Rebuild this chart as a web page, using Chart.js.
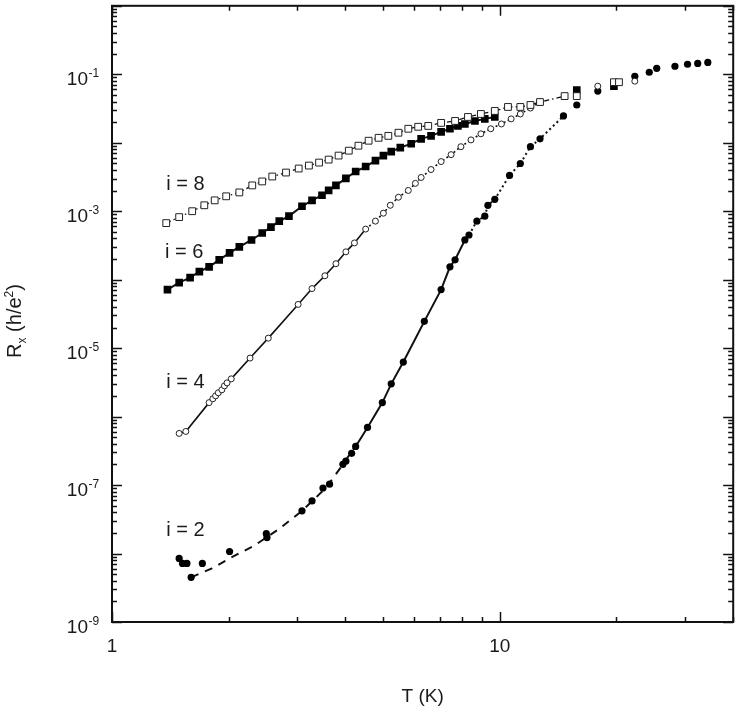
<!DOCTYPE html>
<html>
<head>
<meta charset="utf-8">
<script src="https://cdn.jsdelivr.net/npm/chart.js@4.4.1/dist/chart.umd.min.js"></script>
<style>
  html, body { margin: 0; padding: 0; background: #fff; }
  #wrap { width: 739px; height: 713px; }
</style>
</head>
<body>
<div id="wrap"><canvas id="rxChart" width="739" height="713"></canvas></div>
<script>
// i = 8, open squares
const t8 = [1.38, 1.49, 1.61, 1.73, 1.84, 1.97, 2.13, 2.30, 2.44, 2.59, 2.81, 3.03, 3.22, 3.42, 3.62, 3.84, 4.08, 4.32, 4.59, 4.87,
            5.16, 5.48, 5.81, 6.16, 6.54, 7.06, 7.67, 8.28, 8.94, 9.71, 10.5, 11.3, 12.0, 12.7, 14.7, 15.8, 19.7, 20.3];
const r8 = [6.7e-4, 8.2e-4, 1.0e-3, 1.22e-3, 1.44e-3, 1.65e-3, 1.88e-3, 2.38e-3, 2.72e-3, 3.21e-3, 3.67e-3, 4.2e-3, 4.64e-3, 5.13e-3,
            5.67e-3, 6.49e-3, 7.66e-3, 9.05e-3, 1.07e-2, 1.18e-2, 1.26e-2, 1.40e-2, 1.60e-2, 1.71e-2, 1.76e-2, 1.95e-2, 2.08e-2,
            2.38e-2, 2.63e-2, 2.91e-2, 3.33e-2, 3.33e-2, 3.56e-2, 3.93e-2, 4.8e-2, 4.8e-2, 7.66e-2, 7.66e-2];

// i = 6, filled squares
const t6 = [1.39, 1.49, 1.59, 1.68, 1.78, 1.89, 2.01, 2.13, 2.29, 2.44, 2.57, 2.70, 2.86, 3.09, 3.28, 3.48, 3.62, 3.78, 4.01, 4.25,
            4.51, 4.78, 5.01, 5.25, 5.54, 5.91, 6.27, 6.65, 7.06, 7.44, 7.80, 8.13, 8.63, 9.15, 9.71, 15.8, 19.7];
const r6 = [7.16e-5, 9.06e-5, 1.07e-4, 1.31e-4, 1.54e-4, 1.95e-4, 2.46e-4, 3.01e-4, 3.80e-4, 4.80e-4, 5.86e-4, 7.16e-4, 8.47e-4,
            1.18e-3, 1.44e-3, 1.71e-3, 2.01e-3, 2.38e-3, 3.01e-3, 3.80e-3, 4.49e-3, 5.48e-3, 6.49e-3, 7.41e-3, 8.47e-3, 9.68e-3,
            1.14e-2, 1.26e-2, 1.44e-2, 1.60e-2, 1.76e-2, 1.88e-2, 2.08e-2, 2.23e-2, 2.38e-2, 5.86e-2, 6.70e-2];

// i = 4, open circles
const t4 = [1.49, 1.55, 1.78, 1.82, 1.85, 1.88, 1.92, 1.95, 1.98, 2.03, 2.27, 2.53, 3.02, 3.28, 3.54, 3.78, 4.01, 4.22, 4.51, 4.78,
            5.01, 5.22, 5.48, 5.81, 6.06, 6.27, 6.65, 7.06, 7.49, 7.94, 8.43, 8.94, 9.48, 10.1, 10.7, 11.3, 12.0, 12.7, 17.9, 22.3];
const r4 = [5.68e-7, 6.07e-7, 1.60e-6, 1.82e-6, 2.01e-6, 2.23e-6, 2.46e-6, 2.81e-6, 3.11e-6, 3.56e-6, 7.16e-6, 1.40e-5, 4.35e-5,
            7.41e-5, 1.14e-4, 1.71e-4, 2.55e-4, 3.44e-4, 5.48e-4, 7.16e-4, 9.35e-4, 1.22e-3, 1.60e-3, 2.01e-3, 2.55e-3, 3.11e-3,
            4.06e-3, 5.31e-3, 6.70e-3, 8.75e-3, 1.10e-2, 1.35e-2, 1.60e-2, 1.88e-2, 2.23e-2, 2.63e-2, 3.21e-2, 3.93e-2, 6.70e-2, 7.93e-2];

// i = 2, filled circles
const t2 = [1.49, 1.52, 1.56, 1.60, 1.71, 2.01, 2.50, 2.51, 3.09, 3.28, 3.50, 3.64, 3.94, 4.01, 4.15, 4.25, 4.56, 4.98, 5.25, 5.64,
            6.39, 7.06, 7.44, 7.67, 8.13, 8.33, 8.73, 9.15, 9.32, 9.71, 10.6, 11.3, 12.0, 12.7, 14.6, 15.8, 17.9, 22.3, 24.3, 25.4,
            28.3, 30.5, 32.4, 34.4];
const r2 = [8.47e-9, 7.16e-9, 7.16e-9, 4.49e-9, 7.16e-9, 1.07e-8, 1.95e-8, 1.71e-8, 4.20e-8, 5.86e-8, 9.06e-8, 1.03e-7, 2.01e-7,
            2.23e-7, 2.91e-7, 3.67e-7, 6.94e-7, 1.60e-6, 3.01e-6, 6.26e-6, 2.46e-5, 7.16e-5, 1.54e-4, 1.95e-4, 3.80e-4, 4.49e-4,
            7.16e-4, 8.47e-4, 1.22e-3, 1.49e-3, 3.33e-3, 4.97e-3, 8.75e-3, 1.14e-2, 2.46e-2, 3.56e-2, 5.68e-2, 9.35e-2, 0.107,
            0.122, 0.131, 0.140, 0.144, 0.149];

// dashed low-T curve through the i = 2 data
const t2fit = [1.60, 1.81, 2.03, 2.33, 2.70, 3.09, 3.56, 3.96, 4.32];
const r2fit = [4.49e-9, 6.07e-9, 8.75e-9, 1.31e-8, 2.30e-8, 4.20e-8, 9.06e-8, 2.08e-7, 4.35e-7];

// axis ticks and labels
const xLabelTicks = [1, 10];
const xMinorTicks = [2, 3, 4, 5, 6, 7, 8, 9, 20, 30, 40];
const yLabelExps = [-1, -3, -5, -7, -9];
const curveLabels = ['i = 8', 'i = 6', 'i = 4', 'i = 2'];
const curveLabelT = [1.38, 1.37, 1.38, 1.38];
const curveLabelR = [2.46e-3, 2.46e-4, 3.2e-6, 2.15e-8];

const FONT = "'Liberation Sans', Arial, sans-serif";
const INK = '#1a1a1a';

function pts(t, r) {
    return t.map((v, i) => ({ x: v, y: r[i] }));
}

function between(t, r, lo, hi) {
    return pts(t, r).filter(p => p.x >= lo && p.x <= hi);
}

// frame, inward ticks, y labels and curve labels
const framePlugin = {
    id: 'frameTicks',
    afterDraw(chart) {
        const { ctx, chartArea: a, scales: { x, y } } = chart;
        ctx.save();
        ctx.strokeStyle = '#111';

        // y ticks on both sides
        ctx.lineWidth = 1.5;
        ctx.beginPath();
        for (let d = -9; d <= 0; d++) {
            for (let m = 1; m <= 9; m++) {
                const v = m * Math.pow(10, d);
                if (v > 1.0001) continue;
                const py = Math.round(y.getPixelForValue(v)) + 0.5;
                const len = m === 1 ? 10 : 5;
                ctx.moveTo(a.left, py); ctx.lineTo(a.left + len, py);
                ctx.moveTo(a.right, py); ctx.lineTo(a.right - len, py);
            }
        }
        // x ticks on top and bottom
        xLabelTicks.concat(xMinorTicks).forEach(v => {
            const px = Math.round(x.getPixelForValue(v)) + 0.5;
            const len = xLabelTicks.includes(v) ? 10 : 5;
            ctx.moveTo(px, a.bottom); ctx.lineTo(px, a.bottom - len);
            ctx.moveTo(px, a.top); ctx.lineTo(px, a.top + len);
        });
        ctx.stroke();

        // frame
        ctx.lineWidth = 2;
        ctx.strokeRect(a.left, a.top, a.right - a.left, a.bottom - a.top);

        // y tick labels 10^n
        ctx.fillStyle = INK;
        yLabelExps.forEach(e => {
            const py = y.getPixelForValue(Math.pow(10, e));
            ctx.font = '19px ' + FONT;
            ctx.textAlign = 'right';
            ctx.textBaseline = 'alphabetic';
            ctx.fillText('10', 88, py + 11);
            ctx.font = '12px ' + FONT;
            ctx.textAlign = 'left';
            ctx.fillText('-' + Math.abs(e), 88.5, py + 3);
        });

        // y axis title R_x (h/e^2)
        const parts = [['R', 20, 0], ['x', 12, 5], [' (h/e', 20, 0], ['2', 12, -8], [')', 20, 0]];
        let total = 0;
        parts.forEach(p => { ctx.font = p[1] + 'px ' + FONT; total += ctx.measureText(p[0]).width; });
        ctx.translate(21, 321);
        ctx.rotate(-Math.PI / 2);
        ctx.textAlign = 'left';
        let cx = -total / 2;
        parts.forEach(p => {
            ctx.font = p[1] + 'px ' + FONT;
            ctx.fillText(p[0], cx, p[2]);
            cx += ctx.measureText(p[0]).width;
        });
        ctx.setTransform(1, 0, 0, 1, 0, 0);

        // curve labels
        ctx.font = '20px ' + FONT;
        ctx.textAlign = 'left';
        ctx.textBaseline = 'middle';
        curveLabels.forEach((s, i) => {
            ctx.fillText(s, x.getPixelForValue(curveLabelT[i]), y.getPixelForValue(curveLabelR[i]));
        });
        ctx.restore();
    }
};

const ctx = document.getElementById('rxChart').getContext('2d');
const rxChart = new Chart(ctx, {
    type: 'scatter',
    data: {
        datasets: [
            // lines
            {
                data: between(t8, r8, 0, 15), showLine: true, pointRadius: 0,
                borderColor: '#111', borderWidth: 1.3, borderDash: [5, 3, 1.5, 3], order: 10
            },
            {
                data: between(t6, r6, 0, 10), showLine: true, pointRadius: 0,
                borderColor: '#111', borderWidth: 2, order: 10
            },
            {
                data: between(t4, r4, 0, 13), showLine: true, pointRadius: 0,
                borderColor: '#111', borderWidth: 1.6, order: 10,
                segment: { borderDash: c => c.p0.parsed.x >= 4.3 ? [2, 2.5] : undefined }
            },
            {
                data: between(t2, r2, 4.2, 15), showLine: true, pointRadius: 0,
                borderColor: '#111', borderWidth: 2, order: 10,
                segment: { borderDash: c => c.p0.parsed.x >= 8.3 ? [2, 3] : undefined }
            },
            {
                data: pts(t2fit, r2fit), showLine: true, pointRadius: 0,
                borderColor: '#111', borderWidth: 2, borderDash: [8, 7], order: 10
            },
            // markers
            {
                label: 'i = 8', data: pts(t8, r8), pointStyle: 'rect', pointRadius: 4.8,
                backgroundColor: '#fff', borderColor: '#222', pointBorderWidth: 1, order: 1
            },
            {
                label: 'i = 6', data: pts(t6, r6), pointStyle: 'rect', pointRadius: 5.4,
                backgroundColor: '#000', borderColor: '#000', pointBorderWidth: 0, order: 1
            },
            {
                label: 'i = 4', data: pts(t4, r4), pointStyle: 'circle', pointRadius: 3,
                backgroundColor: '#fff', borderColor: '#222', pointBorderWidth: 1, order: 1
            },
            {
                label: 'i = 2', data: pts(t2, r2), pointStyle: 'circle', pointRadius: 3.6,
                backgroundColor: '#000', borderColor: '#000', pointBorderWidth: 0, order: 1
            }
        ]
    },
    options: {
        responsive: false,
        animation: false,
        events: [],
        layout: { padding: { left: 0, right: 3, top: 1, bottom: 0 } },
        plugins: {
            legend: { display: false },
            tooltip: { enabled: false }
        },
        scales: {
            x: {
                type: 'logarithmic',
                min: 1,
                max: 40,
                grid: { display: false, drawTicks: false },
                border: { display: false },
                afterBuildTicks: s => { s.ticks = xLabelTicks.map(v => ({ value: v })); },
                afterFit: s => { s.height = 91; },
                ticks: {
                    padding: 13,
                    autoSkip: false,
                    maxRotation: 0,
                    color: INK,
                    font: { family: FONT, size: 19 },
                    callback: v => String(v)
                },
                title: {
                    display: true,
                    text: 'T (K)',
                    color: INK,
                    font: { family: FONT, size: 19 },
                    padding: { top: 0, bottom: 5 }
                }
            },
            y: {
                type: 'logarithmic',
                min: 1e-9,
                max: 1,
                grid: { display: false, drawTicks: false },
                border: { display: false },
                ticks: { display: false },
                afterFit: s => { s.width = 112; }
            }
        }
    },
    plugins: [framePlugin]
});
</script>
</body>
</html>
